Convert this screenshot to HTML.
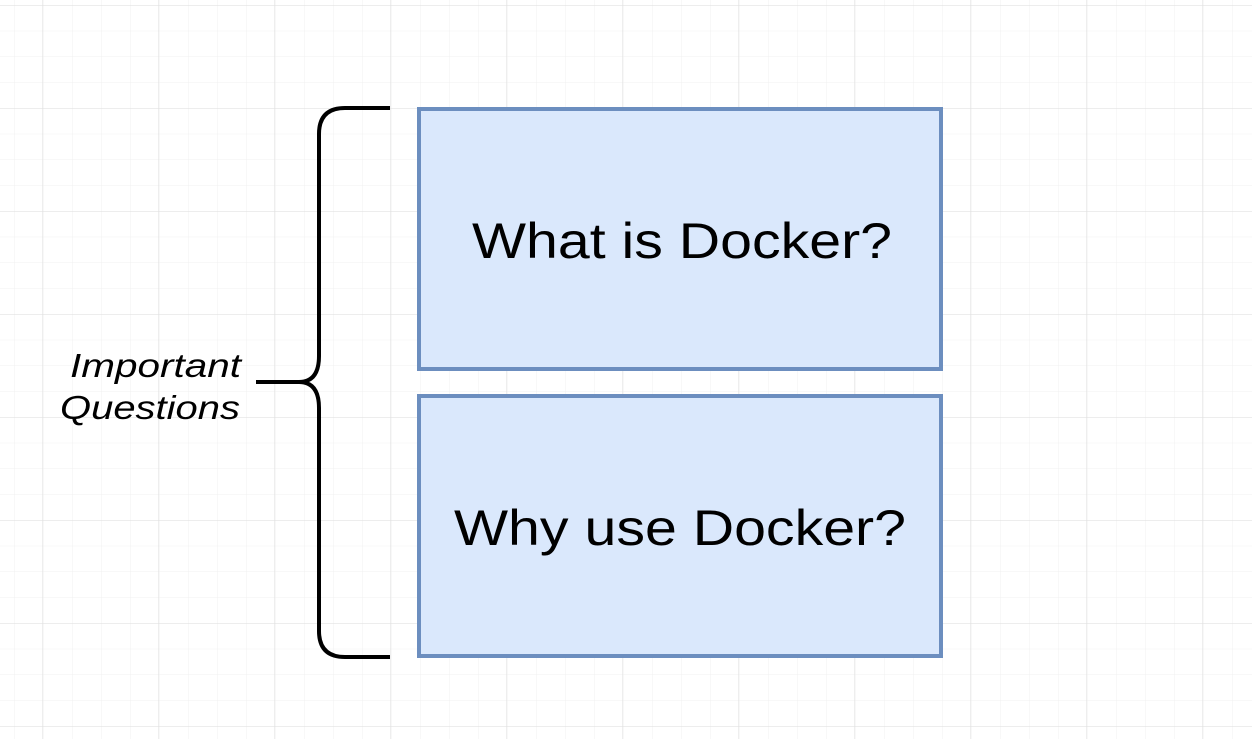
<!DOCTYPE html>
<html><head><style>
html,body{margin:0;padding:0;}
body{width:1252px;height:739px;overflow:hidden;background:#fff;position:relative;font-family:"Liberation Sans",sans-serif;}
</style></head><body>
<svg width="1252" height="739" style="position:absolute;left:0;top:0">
<defs>
<pattern id="minor" x="14" y="5" width="29" height="25.75" patternUnits="userSpaceOnUse">
<path d="M0 0V25.75M0 0H29" stroke="#f0f0f0" stroke-width="1" fill="none"/>
</pattern>
<pattern id="major" x="42" y="5" width="116" height="103" patternUnits="userSpaceOnUse">
<path d="M0 0V103M0 0H116" stroke="#e2e2e2" stroke-width="1.2" fill="none"/>
</pattern>
</defs>
<rect width="1252" height="739" fill="url(#minor)"/>
<rect width="1252" height="739" fill="url(#major)"/>
<path d="M390 108H345Q319 108 319 134V356Q319 382 299 382H256M299 382Q319 382 319 408V631Q319 657 345 657H390" stroke="#000" stroke-width="4" fill="none"/>
<rect x="419" y="109" width="522" height="260" fill="#dae8fc" stroke="#6c8ebf" stroke-width="4"/>
<rect x="419" y="396" width="522" height="260" fill="#dae8fc" stroke="#6c8ebf" stroke-width="4"/>
<text x="682" y="258" font-size="50" text-anchor="middle" font-family="Liberation Sans" textLength="420" lengthAdjust="spacingAndGlyphs">What is Docker?</text>
<text x="680" y="545" font-size="50" text-anchor="middle" font-family="Liberation Sans" textLength="452" lengthAdjust="spacingAndGlyphs">Why use Docker?</text>
<text x="241" y="377" font-size="33" font-style="italic" text-anchor="end" font-family="Liberation Sans" textLength="171" lengthAdjust="spacingAndGlyphs">Important</text>
<text x="240" y="419" font-size="33" font-style="italic" text-anchor="end" font-family="Liberation Sans" textLength="180" lengthAdjust="spacingAndGlyphs">Questions</text>
</svg>
</body></html>
